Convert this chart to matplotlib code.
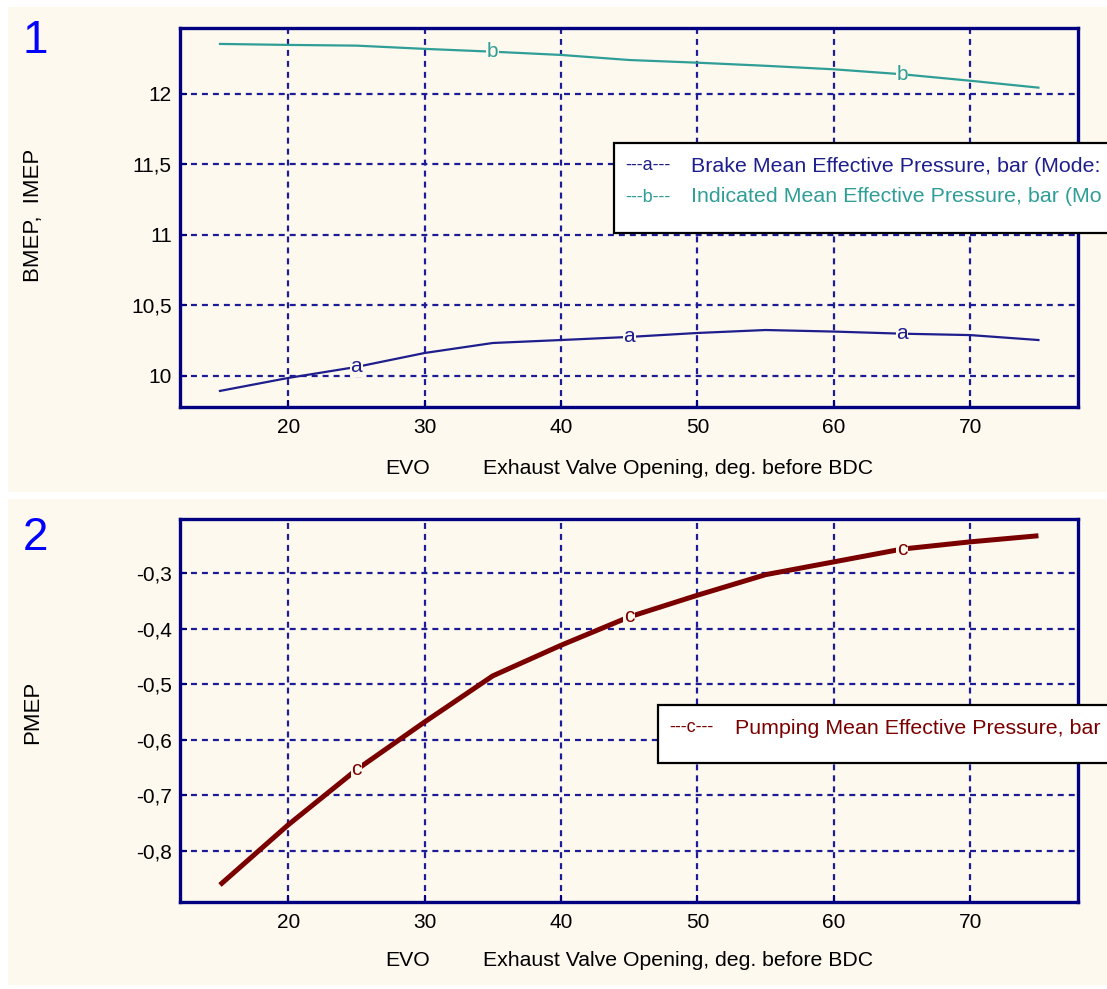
import matplotlib
matplotlib.use("Agg")
import matplotlib.pyplot as plt
from matplotlib.patches import Rectangle
from matplotlib.ticker import FuncFormatter, FixedLocator
import numpy as np

plt.rcParams['font.family'] = ['Liberation Sans', 'DejaVu Sans']
plt.rcParams['lines.scale_dashes'] = False

# ---- data ----
evo = [15, 20, 25, 30, 35, 40, 45, 50, 55, 60, 65, 70, 75]
bmep = [9.894, 9.986, 10.064, 10.163, 10.234, 10.255, 10.277, 10.305, 10.326, 10.315, 10.30, 10.29, 10.255]
imep = [12.355, 12.348, 12.343, 12.32, 12.30, 12.277, 12.241, 12.222, 12.20, 12.175, 12.14, 12.094, 12.045]
pmep = [-0.861, -0.753, -0.654, -0.568, -0.485, -0.430, -0.379, -0.340, -0.303, -0.280, -0.257, -0.244, -0.233]
a_marks = [25, 45, 65]
b_marks = [35, 65]
c_marks = [25, 45, 65]
xticks = [20, 30, 40, 50, 60, 70]
yticks_top = [10, 10.5, 11, 11.5, 12]
yticks_bot = [-0.8, -0.7, -0.6, -0.5, -0.4, -0.3]

W, H = 1107, 989
CREAM = '#FEF9EF'
NAVY = '#000080'
GRID = '#1C1C96'
CA = '#1E1E8C'
CB = '#2F9E96'
CC = '#7A0000'
FS = 15

fig = plt.figure(figsize=(W / 100, H / 100), dpi=100, facecolor='white')

def fx(px):
    return px / W

def fy(py):
    return 1 - py / H

# panel backgrounds
fig.patches.append(Rectangle((fx(8), fy(492)), fx(W) - fx(8), fy(7) - fy(492),
                             transform=fig.transFigure, facecolor=CREAM, edgecolor='none', zorder=-5))
fig.patches.append(Rectangle((fx(8), fy(985)), fx(W) - fx(8), fy(499) - fy(985),
                             transform=fig.transFigure, facecolor=CREAM, edgecolor='none', zorder=-5))

def comma_fmt(v, pos):
    s = '{:g}'.format(round(v, 3))
    return s.replace('.', ',')

def style(ax, yt):
    ax.set_facecolor(CREAM)
    for s in ax.spines.values():
        s.set_color(NAVY)
        s.set_linewidth(2.4)
    ax.set_xlim(12.07, 77.9)
    ax.xaxis.set_major_locator(FixedLocator(xticks))
    ax.yaxis.set_major_locator(FixedLocator(yt))
    ax.yaxis.set_major_formatter(FuncFormatter(comma_fmt))
    ax.tick_params(direction='in', length=5, width=1.5, color=NAVY, labelsize=FS, pad=6)
    ax.tick_params(axis='x', pad=8)
    ax.grid(True, color=GRID, linewidth=1.6, linestyle=(0, (4.3, 3.6)))
    ax.set_axisbelow(True)
    for t in ax.get_xticklabels() + ax.get_yticklabels():
        t.set_color('black')

def marks(ax, xs, ys, pts, letter, color):
    for p in pts:
        i = xs.index(p)
        ax.text(xs[i], ys[i], letter, color=color, fontsize=FS, ha='center', va='center',
                bbox=dict(facecolor=CREAM, edgecolor='none', pad=0.5), zorder=5)

# ---- top panel ----
ax1 = fig.add_axes([fx(180), fy(407), fx(1078) - fx(180), fy(28) - fy(407)])
style(ax1, yticks_top)
ax1.set_ylim(9.78, 12.468)
ax1.plot(evo, bmep, color=CA, linewidth=1.6, zorder=3)
ax1.plot(evo, imep, color=CB, linewidth=1.6, zorder=3)
marks(ax1, evo, bmep, a_marks, 'a', CA)
marks(ax1, evo, imep, b_marks, 'b', CB)

# ---- bottom panel ----
ax2 = fig.add_axes([fx(180), fy(902), fx(1078) - fx(180), fy(519) - fy(902)])
style(ax2, yticks_bot)
ax2.set_ylim(-0.8917, -0.2029)
ax2.plot(evo, pmep, color=CC, linewidth=3.6, zorder=3, solid_capstyle='butt')
marks(ax2, evo, pmep, c_marks, 'c', CC)

# labels
xl = 'Exhaust Valve Opening, deg. before BDC'
for yy in (468, 961):
    fig.text(fx(385), fy(yy), 'EVO', fontsize=15.3, ha='left', va='center')
    fig.text(fx(483), fy(yy), xl, fontsize=15.3, ha='left', va='center')
fig.text(fx(33), fy(215), 'BMEP,  IMEP', fontsize=16, rotation=90, ha='center', va='center')
fig.text(fx(33), fy(712), 'PMEP', fontsize=16, rotation=90, ha='center', va='center')
fig.text(fx(35), fy(41), '1', fontsize=33, color='#0000FF', ha='center', va='center')
fig.text(fx(35), fy(538), '2', fontsize=33, color='#0000FF', ha='center', va='center')

# legends
def legend_box(x0, y0, y1, rows):
    fig.add_artist(Rectangle((fx(x0), fy(y1)), fx(W + 20) - fx(x0), fy(y0) - fy(y1),
                             transform=fig.transFigure, facecolor='white', edgecolor='black',
                             linewidth=1.6, zorder=10, clip_on=False))
    for (ty, key, label, col) in rows:
        fig.text(fx(x0 + 11), fy(ty), key, fontsize=FS - 2, color=col, ha='left', va='center', zorder=11)
        fig.text(fx(x0 + 77), fy(ty), label, fontsize=15.4, color=col, ha='left', va='center', zorder=11)

legend_box(614, 143, 233, [
    (166, '---a---', 'Brake Mean Effective Pressure, bar (Mode:', CA),
    (197, '---b---', 'Indicated Mean Effective Pressure, bar (Mo', CB),
])
legend_box(658, 705, 763, [
    (728, '---c---', 'Pumping Mean Effective Pressure, bar', CC),
])

fig.savefig('out.png', dpi=100, facecolor='white')
